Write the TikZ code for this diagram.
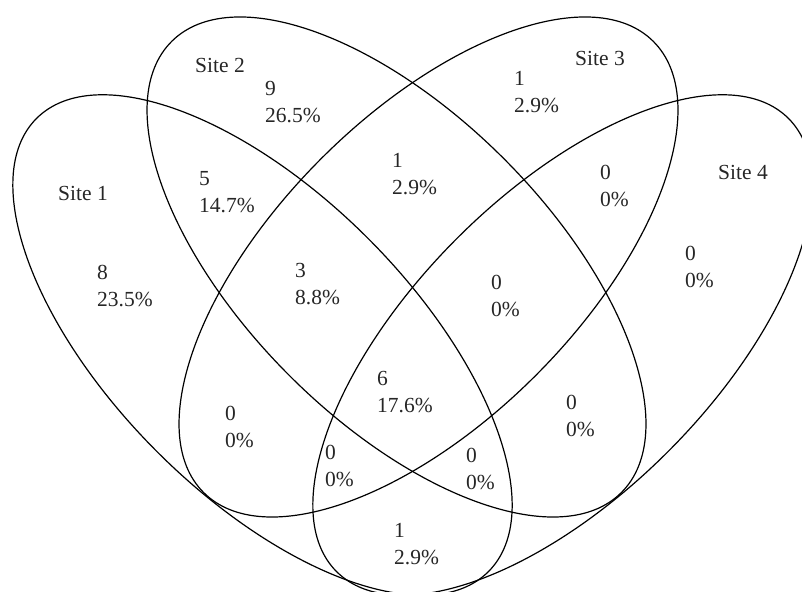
\documentclass[tikz,border=0pt]{standalone}
\usepackage{fontspec}
\setmainfont{Liberation Serif}
\usetikzlibrary{shapes.geometric}
\begin{document}
\begin{tikzpicture}[x=1pt,y=1pt,
  setell/.style={draw=black, line width=1.2pt, ellipse, inner sep=0pt, outer sep=0pt},
  lbl/.style={anchor=north west, inner sep=0pt, align=left, font=\fontsize{21.5}{27}\selectfont, text=black!85}]
\useasboundingbox (0,0) rectangle (802,591);
\clip (0,0) rectangle (802,591);
\node[setell, minimum width=640pt, minimum height=300pt, rotate=-45.1] (s1) at (262.5,246) {};
\node[setell, minimum width=637pt, minimum height=305pt, rotate=-45.1] (s2) at (396.5,324) {};
\node[setell, minimum width=637pt, minimum height=305pt, rotate=45.1] (s3) at (428.5,324) {};
\node[setell, minimum width=640pt, minimum height=300pt, rotate=45.1] (s4) at (562.5,246) {};
\node[lbl] (site1) at (58,405) {Site 1};
\node[lbl] (site2) at (195,533) {Site 2};
\node[lbl] (site3) at (575,540) {Site 3};
\node[lbl] (site4) at (718,426) {Site 4};
\node[lbl] (l8) at (97,326) {8\\23.5\%};
\node[lbl] (l9) at (265,510) {9\\26.5\%};
\node[lbl] (l5) at (199,420) {5\\14.7\%};
\node[lbl] (l3) at (295,328) {3\\8.8\%};
\node[lbl] (l1a) at (392,438) {1\\2.9\%};
\node[lbl] (l1b) at (514,520) {1\\2.9\%};
\node[lbl] (l0a) at (600,426) {0\\0\%};
\node[lbl] (l0b) at (685,345) {0\\0\%};
\node[lbl] (l0c) at (491,316) {0\\0\%};
\node[lbl] (l6) at (377,220) {6\\17.6\%};
\node[lbl] (l0d) at (225,185) {0\\0\%};
\node[lbl] (l0e) at (325,146) {0\\0\%};
\node[lbl] (l0f) at (466,143) {0\\0\%};
\node[lbl] (l0g) at (566,196) {0\\0\%};
\node[lbl] (l1c) at (394,68) {1\\2.9\%};
\end{tikzpicture}
\end{document}
